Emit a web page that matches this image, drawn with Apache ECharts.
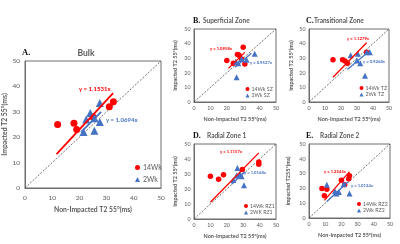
<!DOCTYPE html>
<html><head><meta charset="utf-8">
<script src="https://cdn.jsdelivr.net/npm/echarts/dist/echarts.min.js"></script>
<style>html,body{margin:0;padding:0;background:#fff}#c{width:400px;height:244px}</style>
</head><body><div id="c"></div>
<script>
// ---------- data ----------
const panelLetters = ['A.', 'B.', 'C.', 'D.', 'E.'];
const panelTitles = ['Bulk', 'Superficial Zone', 'Transitional Zone', 'Radial Zone 1', 'Radial Zone 2'];
const redNames = ['14Wk', '14Wk SZ', '14Wk TZ', '14Wk RZ1', '14Wk RZ2'];
const blueNames = ['2Wk', '2Wk SZ', '2Wk TZ', '2WK RZ1', '2Wk RZ2'];
const xAxisNames = ['Non-Impacted T2 55°(ms)', 'Non-Impacted T2 55°(ms)', 'Non-Impacted T2 55°(ms)', 'Non-Impacted T2 55°(ms)', 'Non-Impacted T2 55°(ms)'];
const yAxisNames = ['Impacted T2 55°(ms)', 'Impacted T2 55°(ms)', 'Impacted T2 55°(ms)', 'Impacted T2 55°(ms)', 'Impacted T255°(ms)'];
const axisMin = 0, axisMax = 50, axisStep = 10;

const redA = [[12, 25], [18, 25.5], [19, 23], [25, 28], [31, 32], [32.5, 34]];
const blueA = [[21.5, 22], [25.5, 22.5], [22.5, 27], [24, 29.5], [27.5, 33.5], [27.5, 26], [25.5, 27.5]];
const redB = [[20, 28.5], [30, 37.5], [26.5, 32.5], [27.5, 32], [31, 26], [24, 26.5], [29, 29.5]];
const blueB = [[37, 33], [26, 17], [25.5, 27.5], [29, 29.5], [32, 29], [27, 26.5]];
const redC = [[15, 29], [21, 29], [24, 26.5], [22.5, 28], [36, 34]];
const blueC = [[26, 32], [30.5, 33], [38, 34], [32, 26.5], [35, 18], [30, 28.5], [36, 34]];
const redD = [[10, 28.5], [15, 26.5], [18, 29.5], [29.5, 33], [39.5, 38], [39.5, 36.5]];
const blueD = [[26.5, 34], [30.5, 22.5], [24, 26], [29, 28.5], [26, 29], [28, 30]];
const redE = [[8, 20], [11, 19.5], [9.5, 15], [20, 25.5], [25, 28.5], [24.5, 26.5], [22, 22.5]];
const blueE = [[11, 22.5], [16, 18], [18.5, 17.5], [21.5, 23], [25, 16.5], [17, 16.5]];

const redSlopes = [1.1531, 1.0958, 1.1279, 1.1157, 1.2545];
const blueSlopes = [1.0694, 0.9527, 0.9268, 1.0168, 1.0124];
const redFitRange = [[11.6, 32.4], [21, 31], [15, 36], [10, 39.5], [9.5, 25]];
const blueFitRange = [[20.6, 28], [25, 35], [24, 37], [23, 31], [11, 24]];
const identityLine = [[0, 0], [50, 50]];

const redData = [redA, redB, redC, redD, redE];
const blueData = [blueA, blueB, blueC, blueD, blueE];

// ---------- layout / style ----------
const RED = '#FF0000', BLUE = '#4472C4', GREY = '#595959';
const SANS = 'Lato, "Liberation Sans", sans-serif';
const SERIF = '"Liberation Serif", "DejaVu Serif", serif';
const grids = [
  { left: 25, top: 61, width: 136, height: 127 },
  { left: 194, top: 29, width: 82, height: 73 },
  { left: 309, top: 29, width: 80, height: 73 },
  { left: 194, top: 144, width: 82, height: 75 },
  { left: 309, top: 144, width: 81, height: 74 }
];
const big = [true, false, false, false, false];
const yNameGap = [17, 16, 15, 16, 18];
const xNameGap = [16, 14, 14, 14, 14];
const letterPos = [[22, 53], [193, 21], [306, 21], [193, 136], [306, 136]];
const titlePos = [[86, 53, 'center'], [203, 21, 'left'], [314, 21, 'left'], [207, 136, 'left'], [320, 136, 'left']];
const redEqPos = [[79, 89], [210, 48.5], [347, 39], [220, 152], [324, 172]];
const blueEqPos = [[106, 120], [250, 62.5], [363, 62], [244, 173], [351, 186]];
const legendPos = [[135, 164], [245.5, 86.5], [359.5, 85.5], [244, 203.5], [357, 201.5]];

const fmtEq = s => 'y = ' + s.toFixed(4) + 'x';

const option = {
  animation: false,
  backgroundColor: '#fff',
  grid: grids.map(g => Object.assign({ show: true, borderColor: '#6e6e6e', borderWidth: 1, backgroundColor: 'transparent' }, g)),
  xAxis: grids.map((g, i) => ({
    type: 'value', gridIndex: i, min: axisMin, max: axisMax, interval: axisStep,
    name: xAxisNames[i], nameLocation: 'middle', nameGap: xNameGap[i],
    nameTextStyle: { fontFamily: SANS, fontSize: big[i] ? 6.8 : 5.5, fontWeight: 'bold', color: GREY },
    axisLine: { show: true, lineStyle: { color: '#6e6e6e', width: 1 } },
    axisTick: { show: false }, splitLine: { show: false },
    axisLabel: { fontFamily: SANS, fontSize: big[i] ? 6.5 : 5.3, color: GREY, margin: big[i] ? 6 : 4 }
  })),
  yAxis: grids.map((g, i) => ({
    type: 'value', gridIndex: i, min: axisMin, max: axisMax, interval: axisStep,
    name: yAxisNames[i], nameLocation: 'middle', nameGap: yNameGap[i], nameRotate: 90,
    nameTextStyle: { fontFamily: SANS, fontSize: big[i] ? 6.8 : 5.5, fontWeight: 'bold', color: GREY },
    axisLine: { show: true, lineStyle: { color: '#6e6e6e', width: 1 } },
    axisTick: { show: false }, splitLine: { show: false },
    axisLabel: { fontFamily: SANS, fontSize: big[i] ? 6.5 : 5.3, color: GREY, margin: big[i] ? 5 : 3.5 }
  })),
  legend: grids.map((g, i) => ({
    left: legendPos[i][0], top: legendPos[i][1], orient: 'vertical', padding: 0,
    itemGap: big[i] ? 5 : 1.5, itemWidth: big[i] ? 5 : 4, itemHeight: big[i] ? 5 : 4,
    selectedMode: false,
    textStyle: { fontFamily: SANS, fontSize: big[i] ? 7 : 5.2, color: GREY, padding: [0, 0, 0, big[i] ? -2 : -3] },
    data: [{ name: redNames[i], icon: 'circle' }, { name: blueNames[i], icon: 'triangle' }]
  })),
  series: [],
  graphic: []
};

grids.forEach((g, i) => {
  option.series.push({
    type: 'line', xAxisIndex: i, yAxisIndex: i, data: identityLine, symbol: 'none', silent: true, z: 1,
    lineStyle: { color: '#333', width: 0.7, type: [2, 1.5] }
  });
  option.series.push({
    type: 'scatter', name: redNames[i], xAxisIndex: i, yAxisIndex: i, data: redData[i], z: 3,
    symbol: 'circle', symbolSize: big[i] ? 7 : 5.5, itemStyle: { color: RED, opacity: 1 }
  });
  option.series.push({
    type: 'scatter', name: blueNames[i], xAxisIndex: i, yAxisIndex: i, data: blueData[i], z: 3,
    symbol: 'triangle', symbolSize: big[i] ? [8, 8] : [6, 6], itemStyle: { color: BLUE, opacity: 1 }
  });
  option.series.push({
    type: 'line', xAxisIndex: i, yAxisIndex: i, symbol: 'none', silent: true, z: 4,
    data: redFitRange[i].map(x => [x, redSlopes[i] * x]),
    lineStyle: { color: RED, width: big[i] ? 1.8 : 1.3 }
  });
  option.series.push({
    type: 'line', xAxisIndex: i, yAxisIndex: i, symbol: 'none', silent: true, z: 4,
    data: blueFitRange[i].map(x => [x, blueSlopes[i] * x]),
    lineStyle: { color: BLUE, width: big[i] ? 1.8 : 1.3 }
  });
  option.graphic.push({
    type: 'text', x: letterPos[i][0], y: letterPos[i][1],
    style: { text: panelLetters[i], fill: '#111', font: 'bold ' + (big[i] ? 8.5 : 8) + 'px ' + SERIF, verticalAlign: 'middle', align: 'left' }
  });
  option.graphic.push({
    type: 'text', x: titlePos[i][0], y: titlePos[i][1],
    style: { text: panelTitles[i], fill: GREY, font: 'bold ' + (big[i] ? 8.5 : 6.5) + 'px ' + SANS, verticalAlign: 'middle', align: titlePos[i][2] }
  });
  option.graphic.push({
    type: 'text', x: redEqPos[i][0], y: redEqPos[i][1],
    style: { text: fmtEq(redSlopes[i]), fill: RED, font: 'bold ' + (big[i] ? 6 : 4.2) + 'px ' + SANS, verticalAlign: 'middle', align: 'left' }
  });
  option.graphic.push({
    type: 'text', x: blueEqPos[i][0], y: blueEqPos[i][1],
    style: { text: fmtEq(blueSlopes[i]), fill: BLUE, font: 'bold ' + (big[i] ? 6 : 4.2) + 'px ' + SANS, verticalAlign: 'middle', align: 'left' }
  });
});

const chart = echarts.init(document.getElementById('c'), null, { renderer: 'canvas' });
chart.setOption(option);
</script>
</body></html>
